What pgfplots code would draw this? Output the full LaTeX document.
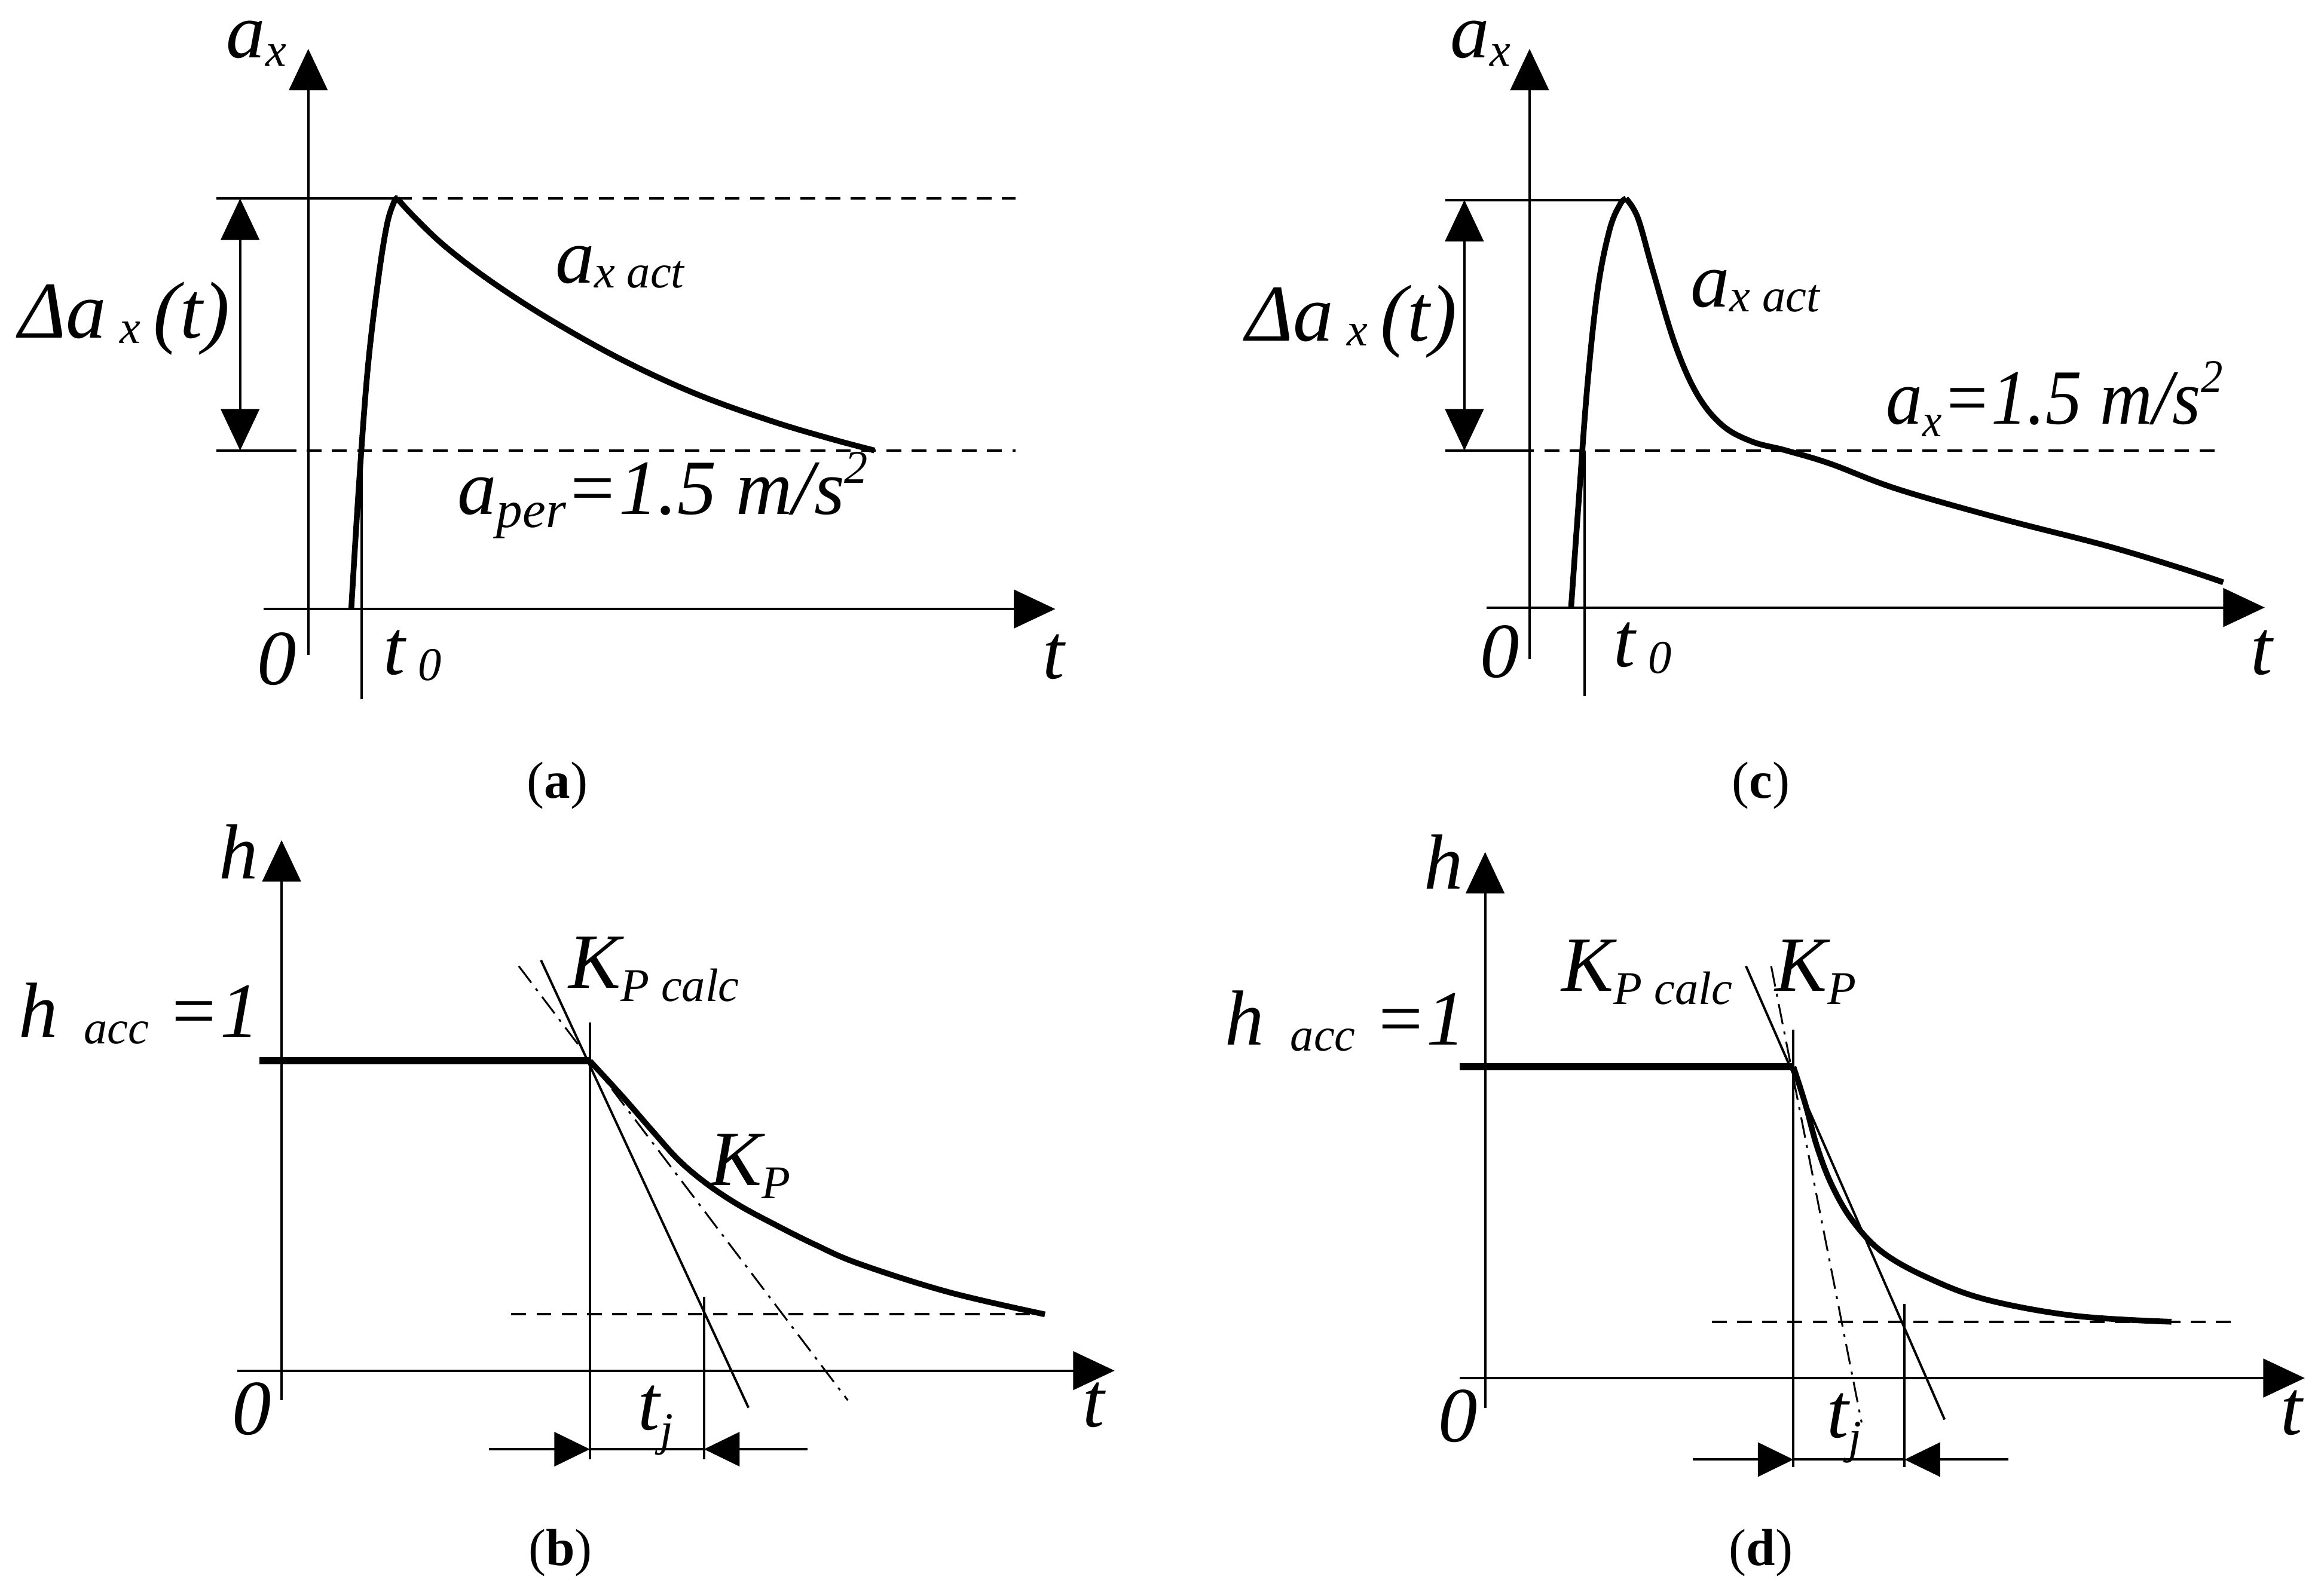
\documentclass[border=0pt]{standalone}
\usepackage{fontspec}
\setmainfont{Liberation Serif}
\usepackage{graphicx}
\usepackage{pgfplots}
\pgfplotsset{compat=1.18}
\usetikzlibrary{arrows.meta}

% italic labels as in the source drawing (Times-like)
\newcommand{\lab}[1]{{\fontsize{15}{15}\selectfont\itshape #1}}
\newcommand{\sub}[2][1.2pt]{\raisebox{-#1}{\fontsize{9}{9}\selectfont #2}}
\newcommand{\sq}{\raisebox{6pt}{\fontsize{9}{9}\selectfont 2}}
\newcommand{\panel}[1]{{\fontsize{10}{10}\selectfont(\textbf{#1})}}

\tikzset{
  axarrow/.style={line width=0.45pt,-{Triangle[length=2.8mm,width=2.6mm]}},
  dimarrow/.style={line width=0.45pt,{Triangle[length=2.8mm,width=2.6mm]}-{Triangle[length=2.8mm,width=2.6mm]}},
  dimtip/.style={line width=0.45pt,-{Triangle[length=2.4mm,width=2.3mm]}},
  thin line/.style={line width=0.45pt},
  level/.style={line width=0.45pt,dash pattern=on 1mm off 0.7mm},
  curve/.style={line width=1.1pt,smooth,tension=0.6},
  dashdot/.style={line width=0.35pt,dash pattern=on 1.4mm off 0.5mm on 0.2mm off 0.5mm},
  lbl/.style={anchor=base west,inner sep=0pt},
}

\begin{document}
\begin{tikzpicture}
\begin{axis}[name=ax,
  width=156.8mm, height=107.2mm, scale only axis,
  xmin=0, xmax=1568, ymin=0, ymax=1072, y dir=reverse,
  hide axis, clip=false,
]
% ---------------- (a) ----------------
\addplot[axarrow] coordinates {(208,442) (208,33)};
\addplot[axarrow] coordinates {(178,411) (712,411)};
\addplot[thin line] coordinates {(146,134) (268,134)};
\addplot[level] coordinates {(268,134) (685,134)};
\addplot[thin line] coordinates {(146,304) (190,304)};
\addplot[level] coordinates {(190,304) (685,304)};
\addplot[dimarrow] coordinates {(162,134) (162,304)};
\addplot[thin line] coordinates {(244,304) (244,472)};
\addplot[curve] coordinates {(237,411) (242,330) (248,250) (255,190) (261,152) (266,136) (268,134)};
\addplot[curve] coordinates {(268,134) (280,147) (300,166) (330,189) (370,215) (420,243) (470,266) (520,284) (560,296) (590,304)};
\node[lbl] at (152,39) {\lab{a\sub[1.6pt]{x}}};
\node[lbl] at (12,228) {\lab{\fontsize{15.5}{15.5}\selectfont Δa\kern2.5pt\sub[1pt]{x}\kern2.5pt(t)}};
\node[lbl] at (374,191) {\lab{a\sub[0.9pt]{x act}}};
\node[lbl] at (308,347) {\lab{a\raisebox{-2.5pt}{\fontsize{10}{10}\selectfont per}=1.5 m/s\sq}};
\node[lbl] at (173,462) {\lab{0}};
\node[lbl] at (258,455) {\lab{t\,\sub{0}}};
\node[lbl] at (703,458) {\lab{t}};
\node at (376,530) {\panel{a}};

% ---------------- (c) ----------------
\addplot[axarrow] coordinates {(1032,445) (1032,33)};
\addplot[axarrow] coordinates {(1003,410) (1528,410)};
\addplot[thin line] coordinates {(975,135) (1097,135)};
\addplot[thin line] coordinates {(975,304) (1025,304)};
\addplot[level] coordinates {(1025,304) (1497,304)};
\addplot[dimarrow] coordinates {(988,135) (988,304)};
\addplot[thin line] coordinates {(1069,304) (1069,470)};
\addplot[curve] coordinates {(1060,410) (1065,340) (1071,260) (1078,195) (1086,155) (1093,138) (1097,134)};
\addplot[curve] coordinates {(1097,134) (1105,147) (1115,182) (1130,232) (1145,266) (1162,287) (1182,298) (1205,304) (1235,313) (1280,330) (1350,350) (1420,368) (1470,383) (1500,393)};
\node[lbl] at (978,39) {\lab{a\sub[1.6pt]{x}}};
\node[lbl] at (840,230) {\lab{\fontsize{15.5}{15.5}\selectfont Δa\kern2.5pt\sub[1pt]{x}\kern2.5pt(t)}};
\node[lbl] at (1140,207) {\lab{a\sub[0.9pt]{x act}}};
\node[lbl] at (1272,286) {\scalebox{0.93}[1]{\lab{a\sub[2.5pt]{x}=1.5 m/s\sq}}};
\node[lbl] at (998,457) {\lab{0}};
\node[lbl] at (1088,450) {\lab{t\,\sub{0}}};
\node[lbl] at (1518,455) {\lab{t}};
\node at (1188,530) {\panel{c}};

% ---------------- (b) ----------------
\addplot[axarrow] coordinates {(190,945) (190,567)};
\addplot[axarrow] coordinates {(160,925) (752,925)};
\addplot[line width=1.4pt] coordinates {(175,716) (398,716)};
\addplot[curve] coordinates {(398,716) (420,740) (440,763) (458,783) (477,799) (498,813) (522,826) (550,840) (580,853) (640,872) (705,887)};
\addplot[level] coordinates {(345,887) (705,887)};
\addplot[thin line] coordinates {(398,690) (398,985)};
\addplot[thin line] coordinates {(475,875) (475,985)};
\addplot[thin line] coordinates {(365,648) (505,950)};
\addplot[dashdot] coordinates {(350,652) (572,945)};
\addplot[dimtip] coordinates {(330,978) (398,978)};
\addplot[thin line] coordinates {(398,978) (475,978)};
\addplot[dimtip] coordinates {(545,978) (475,978)};
\node[lbl] at (147,593) {\lab{h}};
\node[lbl] at (12,700) {\lab{h\hspace{5pt}\sub[1.2pt]{acc}\hspace{3.5pt}=1}};
\node[lbl] at (383,667) {\lab{K\sub[2.5pt]{P calc}}};
\node[lbl] at (478,800) {\lab{K\sub[2.5pt]{P}}};
\node[lbl] at (156,968) {\lab{0}};
\node[lbl] at (430,965) {\lab{t\sub[3pt]{j}}};
\node[lbl] at (730,963) {\lab{t}};
\node at (378,1048) {\panel{b}};

% ---------------- (d) ----------------
\addplot[axarrow] coordinates {(1002,950) (1002,575)};
\addplot[axarrow] coordinates {(985,930) (1555,930)};
\addplot[line width=1.4pt] coordinates {(985,720) (1210,720)};
\addplot[curve] coordinates {(1210,720) (1218,745) (1226,774) (1236,800) (1250,824) (1270,845) (1300,862) (1340,877) (1400,888) (1465,892)};
\addplot[level] coordinates {(1155,892) (1505,892)};
\addplot[thin line] coordinates {(1210,695) (1210,990)};
\addplot[thin line] coordinates {(1285,880) (1285,990)};
\addplot[thin line] coordinates {(1178,652) (1312,958)};
\addplot[dashdot] coordinates {(1195,652) (1256,960)};
\addplot[dimtip] coordinates {(1142,985) (1210,985)};
\addplot[thin line] coordinates {(1210,985) (1285,985)};
\addplot[dimtip] coordinates {(1355,985) (1285,985)};
\node[lbl] at (960,600) {\lab{h}};
\node[lbl] at (826,705) {\lab{h\hspace{5pt}\sub[1.2pt]{acc}\hspace{3.5pt}=1}};
\node[lbl] at (1053,669) {\lab{K\sub[2.5pt]{P calc}}};
\node[lbl] at (1197,669) {\lab{K\sub[2.5pt]{P}}};
\node[lbl] at (970,973) {\lab{0}};
\node[lbl] at (1232,970) {\lab{t\sub[3pt]{j}}};
\node[lbl] at (1538,968) {\lab{t}};
\node at (1188,1048) {\panel{d}};
\end{axis}
\pgfresetboundingbox
\path[use as bounding box] (ax.south west) rectangle (ax.north east);
\end{tikzpicture}
\end{document}
